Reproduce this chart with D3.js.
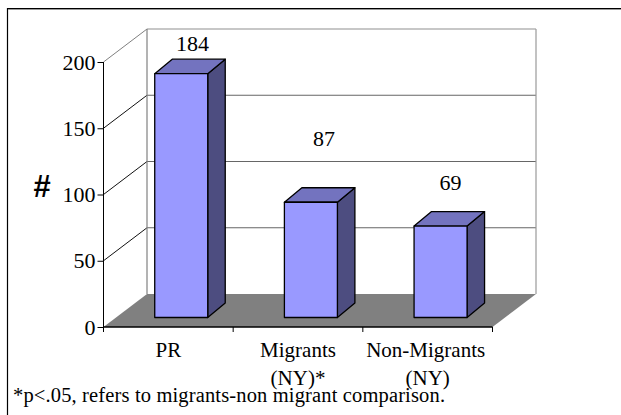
<!DOCTYPE html>
<html><head><meta charset="utf-8">
<script src="https://cdn.jsdelivr.net/npm/d3@7"></script>
<style>html,body{margin:0;padding:0;background:#fff}svg{display:block}text{font-family:"Liberation Serif",serif;fill:#000}</style>
</head><body><script>
const categories = ["PR", "Migrants (NY)*", "Non-Migrants (NY)"];
const categoryLines = [["PR"], ["Migrants", "(NY)*"], ["Non-Migrants", "(NY)"]];
const values = [184, 87, 69];
const yTicks = [0, 50, 100, 150, 200];
const yLabel = "#";
const note = "*p<.05, refers to migrants-non migrant comparison.";

const W = 621, H = 415;
const svg = d3.select("body").append("svg").attr("width", W).attr("height", H);
svg.append("rect").attr("width", W).attr("height", H).attr("fill", "#fff");

// frame
const frame = d3.path(); frame.moveTo(7.5, 415); frame.lineTo(7.5, 8.5); frame.lineTo(621, 8.5);
svg.append("path").attr("d", frame.toString()).attr("fill", "none").attr("stroke", "#000").attr("stroke-width", 1.2);
svg.append("line").attr("x1", 8).attr("x2", 621).attr("y1", 9.5).attr("y2", 9.5).attr("stroke", "#999").attr("stroke-width", 1);

const x = d3.scaleBand().domain(categories).range([103.5, 492.5]).paddingInner(0).paddingOuter(0);
const y = d3.scaleLinear().domain([0, 200]).range([327, 62]);
const dX = 43.5, dY = -33;
const barW = 53, barDX = 17.5, barDY = -14.5, barFront = 9.5, barShift = 12.9;

const line = (x1, y1, x2, y2, s, w) => svg.append("line").attr("x1", x1).attr("y1", y1).attr("x2", x2).attr("y2", y2).attr("stroke", s).attr("stroke-width", w);
const poly = (pts, f, s, w) => svg.append("polygon").attr("points", pts.map(p => p.join(",")).join(" ")).attr("fill", f).attr("stroke", s).attr("stroke-width", w).attr("stroke-linejoin", "round");

const [x0, x1] = x.range();
// floor
poly([[x0, y(0)], [x1, y(0)], [x1 + dX, y(0) + dY], [x0 + dX, y(0) + dY]], "#808080", "none", 0);
// back wall gridlines and side wall
yTicks.forEach(t => {
  if (t > 0) {
    line(x0 + dX, y(t) + dY, x1 + dX, y(t) + dY, t === 200 ? "#909090" : "#666", t === 200 ? 1.2 : 1.1);
    line(x0, y(t), x0 + dX, y(t) + dY, t === 200 ? "#808080" : "#111", 1);
  }
});
line(x0 + dX, y(200) + dY, x0 + dX, y(0) + dY, "#808080", 1.2);
line(x1 + dX, y(200) + dY, x1 + dX, y(0) + dY, "#999", 1.2);

// axes
const yAxisG = svg.append("g").attr("transform", `translate(${x0},0)`).call(d3.axisLeft(y).tickValues(yTicks).tickSize(6).tickPadding(2));
yAxisG.select(".domain").attr("stroke", "#000").attr("stroke-width", 1).attr("d", `M0,${y(200)}V${y(0)}`);
yAxisG.selectAll("text").attr("font-size", 22).attr("font-family", '"Liberation Serif",serif').attr("fill", "#000").attr("dy", "0.32em");
yAxisG.selectAll("line").attr("stroke", "#000");

const xAxisG = svg.append("g").attr("transform", `translate(0,${y(0)})`);
xAxisG.append("line").attr("x1", x0).attr("x2", x1).attr("stroke", "#000").attr("stroke-width", 1.6);
[...categories.map(c => x(c)), x1].forEach(v => line(v, y(0), v, y(0) + 5, "#000", 1));

// bars
categories.forEach((c, i) => {
  const bx = x(c) + x.bandwidth() / 2 - barW / 2 + barShift;
  const base = y(0) - barFront, top = base - (y(0) - y(values[i]));
  poly([[bx + barW, base], [bx + barW + barDX, base + barDY], [bx + barW + barDX, top + barDY], [bx + barW, top]], "#4d4d80", "#000", 1.3);
  poly([[bx, top], [bx + barDX, top + barDY], [bx + barW + barDX, top + barDY], [bx + barW, top]], "#7373bf", "#000", 1.3);
  poly([[bx, top], [bx + barW, top], [bx + barW, base], [bx, base]], "#9999ff", "#000", 1.3);
});

// value labels
const labelPos = [[192.5, 51], [324, 146], [450.5, 190]];
values.forEach((v, i) => svg.append("text").attr("x", labelPos[i][0]).attr("y", labelPos[i][1]).attr("text-anchor", "middle").attr("font-size", 22).text(v));

// category labels
categoryLines.forEach((ls, i) => {
  const cx = x(categories[i]) + x.bandwidth() / 2;
  ls.forEach((l, j) => svg.append("text").attr("x", cx - (l === "Non-Migrants" ? 2 : 0)).attr("y", 357 + j * 28).attr("text-anchor", "middle").attr("font-size", 21).text(l));
});

svg.append("text").attr("x", 42).attr("y", 197).attr("text-anchor", "middle").attr("font-size", 31).attr("font-weight", "bold").style("font-family", '"Liberation Sans",sans-serif').text(yLabel);
svg.append("text").attr("x", 13).attr("y", 402).attr("font-size", 20.5).attr("textLength", 432).text(note);
</script></body></html>
